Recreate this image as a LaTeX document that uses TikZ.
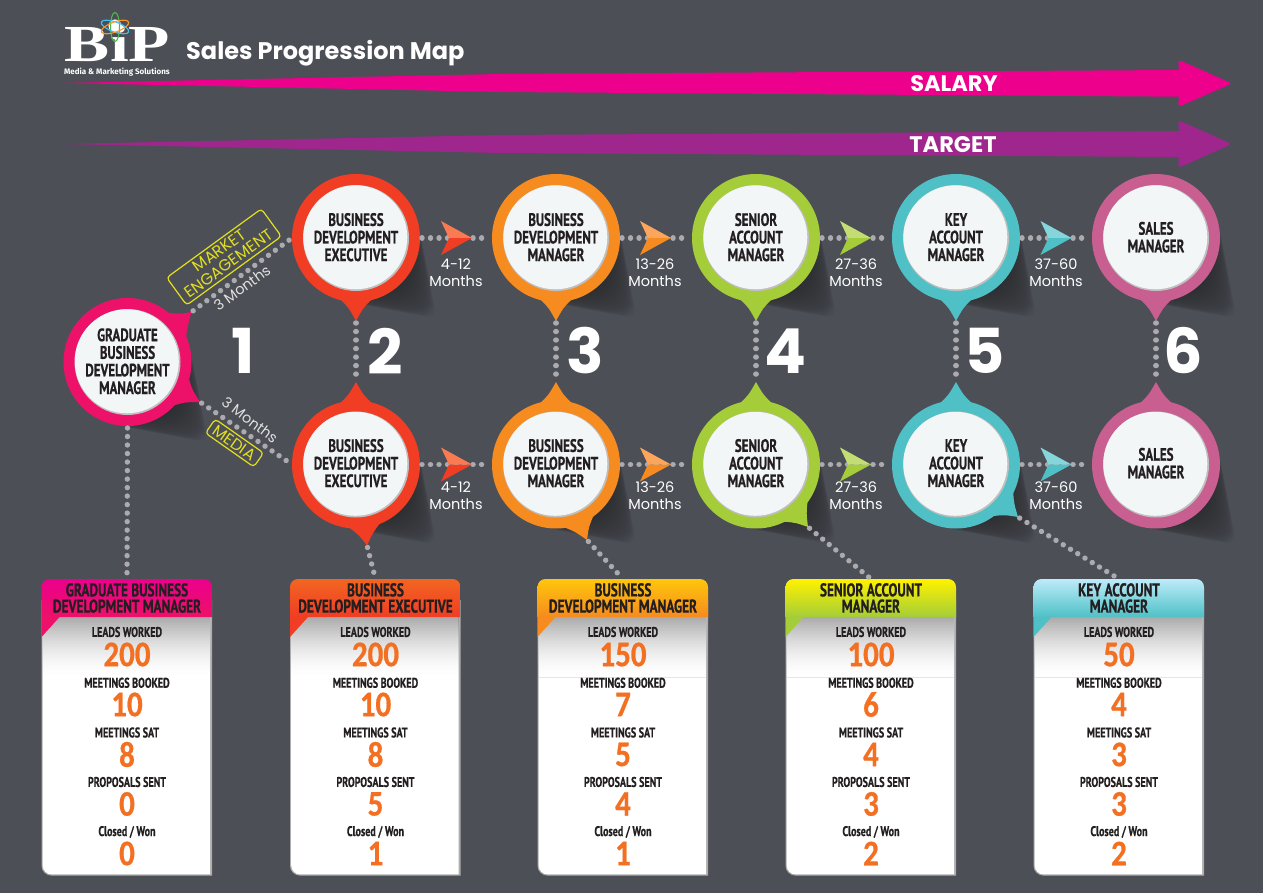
\documentclass[tikz,border=0pt]{standalone}
\usepackage{fontspec}
\usetikzlibrary{calc,shapes.geometric}
\setmainfont{Poppins}
\newfontfamily\cardfont[FakeStretch=0.72,FakeBold=0.6]{PT Sans}
\newfontfamily\numfont[FakeStretch=0.86,FakeBold=0.6]{Carlito}
\newfontfamily\logofont[FakeStretch=1.3]{Liberation Serif}
\newfontfamily\tinyfont{Fira Sans}
\definecolor{bg}{HTML}{4D4F57}
\definecolor{ink}{HTML}{231F20}
\definecolor{dotgrey}{HTML}{ABABAF}
\definecolor{discwhite}{HTML}{F3F6F7}
\definecolor{cPink}{HTML}{ED1169}
\definecolor{cRed}{HTML}{F03D24}
\definecolor{cOrange}{HTML}{F68B1F}
\definecolor{cGreen}{HTML}{A4CD39}
\definecolor{cTeal}{HTML}{4FC1C6}
\definecolor{cMauve}{HTML}{C95E91}
\definecolor{lRed}{HTML}{FA7B52}
\definecolor{lOrange}{HTML}{FBA65C}
\definecolor{lGreen}{HTML}{C3DC74}
\definecolor{lTeal}{HTML}{86D5DA}
\definecolor{numorange}{HTML}{F36F21}
\definecolor{tagyellow}{HTML}{E2DF1E}
\definecolor{salary}{HTML}{EC008C}
\definecolor{target}{HTML}{9E268C}
\tikzset{
  x=1pt,y=-1pt,
  ring/.style={circle,fill=#1,minimum size=128pt,inner sep=0pt,outer sep=0pt},
  pintext/.style={align=center,text=ink,inner sep=0pt,font=\cardfont\bfseries\fontsize{18}{17.6}\selectfont},
  dots/.style={draw=dotgrey,line width=5.4pt,line cap=round,dash pattern=on 0.01pt off 8.5pt,shorten <=2pt,shorten >=2pt},
  months/.style={align=center,text=white,inner sep=0pt,font=\fontsize{14.5}{17}\selectfont},
  bignum/.style={text=white,inner sep=0pt,font=\bfseries\fontsize{62}{62}\selectfont},
  arrowlabel/.style={text=white,inner sep=0pt,font=\bfseries\fontsize{22.5}{22.5}\selectfont},
  cardbox/.style={minimum width=171pt,minimum height=296pt,inner sep=0pt,outer sep=0pt},
  cardhead/.style={align=center,text=ink,inner sep=0pt,font=\cardfont\bfseries\fontsize{18.5}{16.2}\selectfont},
  cardlabel/.style={text=ink,inner sep=0pt,font=\cardfont\bfseries\fontsize{14}{14}\selectfont},
  cardnum/.style={text=numorange,inner sep=0pt,font=\numfont\bfseries\fontsize{36}{36}\selectfont},
  tagbox/.style={draw=tagyellow,line width=1.2pt,rounded corners=3.5pt,align=center,text=tagyellow,inner sep=0pt,font=\fontsize{16}{16}\selectfont},
  rotlabel/.style={text=white!88!black,inner sep=0pt,font=\fontsize{14.5}{15}\selectfont},
}
% soft long shadow, lower right of a circle
\newcommand{\softshadow}[2]{%
  \foreach \i in {1,...,30}{\fill[black,opacity=0.016] (#1+2.4*\i,#2+2.4*\i) circle[radius=64-1.9*\i];}}
\newcommand{\pointer}[4]{% centre node, colour, angle, tip
  \fill[#2] ($(#1)+(#3-15:63)$) .. controls ($(#1)+(#3-6:70)$) .. (#4) .. controls ($(#1)+(#3+6:70)$) .. ($(#1)+(#3+15:63)$) -- cycle;
}
% pin: ring node, pointer, disc
\newcommand{\pin}[7]{% name,x,y,colour,angle,tipx,tipy
  \node[ring=#4] (#1) at (#2,#3) {};
  \coordinate (#1-tip) at (#6,#7);
  \pointer{#1}{#4}{#5}{#1-tip}
  \fill[black!25] (#2,#3) circle[radius=53];
  \fill[discwhite] (#2-0.7,#3-0.7) circle[radius=52];
}
\newcommand{\chev}[4]{% tipx,y,light,dark
  \fill[#4] (#1,#2) -- (#1-31,#2+17) -- (#1-23,#2) -- cycle;
  \fill[#3] (#1,#2) -- (#1-31,#2-17) -- (#1-23,#2) -- cycle;
}
\newcommand{\card}[9]{% name,cx,topcolour,botcolour,head,leads,booked,sat,sent ; won via \wonval, faint rule via \ruleop
  \node[cardbox] (#1) at (#2,727) {};
  \fill[black!32,rounded corners=10pt] (#2-85.5,600) -- (#2-85.5,875.6) [sharp corners] -- (#2+85,875.6) -- (#2+85,600) -- cycle;
  \fill[white,rounded corners=9pt] (#2-84.3,600) -- (#2-84.3,874.4) [sharp corners] -- (#2+83,874.4) -- (#2+83,600) -- cycle;
  \foreach \k in {0,...,29}{\pgfmathsetmacro{\op}{0.33*(1-\k/30)^1.7}\fill[black,opacity=\op] (#2-84.3,617+2*\k) rectangle (#2+83,619+2*\k);}
  \draw[black,opacity=\ruleop,line width=0.6pt] (#2-84,677.7) -- (#2+83,677.7);
  \shade[top color=#3,middle color=#4!75!#3,bottom color=#4] (#2-85.5,617) [rounded corners=8pt] -- (#2-85.5,579) -- (#2+85,579) [sharp corners] -- (#2+85,617) -- cycle;
  \fill[#4] (#2-85.5,616.5) -- (#2-67,616.5) -- (#2-85.5,637) -- cycle;
  \node[cardhead] (#1-head) at (#2,598) {#5};
  \node[cardlabel] (#1-l1) at (#2,632) {LEADS WORKED};
  \node[cardnum] (#1-n1) at (#2,654.5) {#6};
  \node[cardlabel] (#1-l2) at (#2,682.8) {MEETINGS BOOKED};
  \node[cardnum] (#1-n2) at (#2,704.5) {#7};
  \node[cardlabel] (#1-l3) at (#2,732.5) {MEETINGS SAT};
  \node[cardnum] (#1-n3) at (#2,754.5) {#8};
  \node[cardlabel] (#1-l4) at (#2,782) {PROPOSALS SENT};
  \node[cardnum] (#1-n4) at (#2,804) {#9};
  \node[cardlabel] (#1-l5) at (#2,832) {Closed / Won};
  \node[cardnum] (#1-n5) at (#2,853.5) {\wonval};
}
\begin{document}
\begin{tikzpicture}
\useasboundingbox (0,0) rectangle (1263,893);
\fill[bg] (0,0) rectangle (1263,893);

% logo
\node[text=white,inner sep=0pt,anchor=base,font=\logofont\bfseries\fontsize{52}{52}\selectfont] (logo) at (117.5,62) {BiP};
\node[text=white,inner sep=0pt,font=\tinyfont\bfseries\fontsize{8}{8}\selectfont] (logosub) at (117,72) {Media \& Marketing Solutions};
\fill[white] (115,26) circle[radius=6.5];
\draw[green!60!black!70!white,line width=1.1pt] (115,27) ellipse[x radius=4.5,y radius=14.5];
\draw[cyan!75!white,line width=1.1pt,rotate around={-20:(115,27)}] (115,27) ellipse[x radius=14.5,y radius=5];
\draw[orange!85!white,line width=1.1pt,rotate around={20:(115,27)}] (115,27) ellipse[x radius=14.5,y radius=5];
\node[text=white,inner sep=0pt,font=\bfseries\fontsize{24}{24}\selectfont,anchor=base west] (title) at (186,60) {Sales Progression Map};

% long arrows
\fill[salary,rounded corners=3.5pt] (63,83) [sharp corners] -- (500,74) -- (1179,70) [rounded corners=3.5pt] -- (1178,59.5) -- (1232,83.5) -- (1178,107) [sharp corners] -- (1179,96.7) -- (500,92) -- cycle;
\fill[target,rounded corners=3.5pt] (63,144) [sharp corners] -- (500,135) -- (1179,131) [rounded corners=3.5pt] -- (1178,120) -- (1232,144) -- (1178,168) [sharp corners] -- (1179,157) -- (500,153) -- cycle;
\node[arrowlabel] (salarylabel) at (954,84) {SALARY};
\node[arrowlabel] (targetlabel) at (953,145) {TARGET};

% shadows
\softshadow{127.5}{362}
\foreach \cx in {356,556,756,956,1156}{\softshadow{\cx}{238}\softshadow{\cx}{464.5}}

% pins
\pin{grad}{127.5}{362}{cPink}{-37}{191.5}{312}
\coordinate (grad-tipb) at (200,402);
\pointer{grad}{cPink}{29}{grad-tipb}
\node[pintext] (gradt) at (127.5,361.3) {GRADUATE\\BUSINESS\\DEVELOPMENT\\MANAGER};

\pin{ta}{356}{238}{cRed}{90}{356}{321}
\node[pintext] (tat) at (356,237.2) {BUSINESS\\DEVELOPMENT\\EXECUTIVE};
\pin{tb}{556}{238}{cOrange}{90}{556}{321}
\node[pintext] (tbt) at (556,237.2) {BUSINESS\\DEVELOPMENT\\MANAGER};
\pin{tc}{756}{238}{cGreen}{90}{756}{321}
\node[pintext] (tct) at (756,237.2) {SENIOR\\ACCOUNT\\MANAGER};
\pin{td}{956}{238}{cTeal}{90}{956}{321}
\node[pintext] (tdt) at (956,237.2) {KEY\\ACCOUNT\\MANAGER};
\pin{te}{1156}{238}{cMauve}{90}{1156}{321}
\node[pintext] (tet) at (1156,237.2) {SALES\\MANAGER};

\pin{ba}{356}{464.5}{cRed}{-90}{356}{382}
\coordinate (ba-low) at (367,545.5);
\pointer{ba}{cRed}{82}{ba-low}
\node[pintext] (bat) at (356,463.2) {BUSINESS\\DEVELOPMENT\\EXECUTIVE};
\pin{bb}{556}{464.5}{cOrange}{-90}{556}{382}
\coordinate (bb-low) at (587,540);
\pointer{bb}{cOrange}{68}{bb-low}
\node[pintext] (bbt) at (556,463.2) {BUSINESS\\DEVELOPMENT\\MANAGER};
\pin{bc}{756}{464.5}{cGreen}{-90}{756}{382}
\coordinate (bc-low) at (808,527);
\pointer{bc}{cGreen}{50}{bc-low}
\node[pintext] (bct) at (756,463.2) {SENIOR\\ACCOUNT\\MANAGER};
\pin{bd}{956}{464.5}{cTeal}{-90}{956}{382}
\coordinate (bd-low) at (1018,517);
\pointer{bd}{cTeal}{40}{bd-low}
\node[pintext] (bdt) at (956,463.2) {KEY\\ACCOUNT\\MANAGER};
\pin{be}{1156}{464.5}{cMauve}{-90}{1156}{382}
\node[pintext] (bet) at (1156,463.2) {SALES\\MANAGER};

% cards
\def\ruleop{0}
\def\wonval{0}
\card{c1}{127}{salary}{cPink}{GRADUATE BUSINESS\\DEVELOPMENT MANAGER}{200}{10}{8}{0}
\def\wonval{1}
\definecolor{h2}{HTML}{F26522}
\card{c2}{375.5}{h2}{cRed}{BUSINESS\\DEVELOPMENT EXECUTIVE}{200}{10}{8}{5}
\def\ruleop{0.1}
\def\wonval{1}
\definecolor{h3}{HTML}{FFC60B}
\card{c3}{623}{h3}{cOrange}{BUSINESS\\DEVELOPMENT MANAGER}{150}{7}{5}{4}
\def\wonval{2}
\definecolor{h4}{HTML}{FFF200}
\card{c4}{871}{h4}{cGreen}{SENIOR ACCOUNT\\MANAGER}{100}{6}{4}{3}
\def\wonval{2}
\definecolor{h5}{HTML}{BDEBFA}
\card{c5}{1119}{h5}{cTeal}{KEY ACCOUNT\\MANAGER}{50}{4}{3}{3}

% connectors
\draw[dots] (grad-tip) -- (ta.west);
\draw[dots] (grad-tipb) -- (ba.west);
\draw[dots] (grad.south) -- (c1.north);
\foreach \a/\b in {ta/tb,tb/tc,tc/td,td/te,ba/bb,bb/bc,bc/bd,bd/be}{\draw[dots] (\a.east) -- (\b.west);}
\foreach \a/\b in {ta/ba,tb/bb,tc/bc,td/bd,te/be}{\draw[dots] (\a-tip) -- (\b-tip);}
\draw[dots] (ba-low) -- (c2.north);
\draw[dots] (bb-low) -- (c3.north);
\draw[dots] (bc-low) -- (c4.north);
\draw[dots] (bd-low) -- (c5.north);

% chevrons and their labels
\foreach \y in {238,464.5}{
  \chev{472}{\y}{lRed}{cRed}
  \chev{671}{\y}{lOrange}{cOrange}
  \chev{871}{\y}{lGreen}{cGreen}
  \chev{1071.5}{\y}{lTeal}{cTeal}
}
\node[months] (m1) at (456,272.5) {4-12\\Months};
\node[months] (m2) at (655,272.5) {13-26\\Months};
\node[months] (m3) at (856,272.5) {27-36\\Months};
\node[months] (m4) at (1056,272.5) {37-60\\Months};
\node[months] (m5) at (456,495.5) {4-12\\Months};
\node[months] (m6) at (655,495.5) {13-26\\Months};
\node[months] (m7) at (856,495.5) {27-36\\Months};
\node[months] (m8) at (1056,495.5) {37-60\\Months};

% big numbers
\node[bignum] (n1) at (243,351) {1};
\node[bignum] (n2) at (385,351) {2};
\node[bignum] (n3) at (585,351) {3};
\node[bignum] (n4) at (785,351) {4};
\node[bignum] (n5) at (985,351) {5};
\node[bignum] (n6) at (1183,351) {6};

% tags
\node[tagbox,rotate=36,minimum width=117pt,minimum height=34pt] (market) at (224,257) {MARKET\\ENGAGEMENT};
\node[tagbox,rotate=-35,minimum width=59pt,minimum height=17pt] (media) at (234.5,443) {MEDIA};
\node[rotlabel,rotate=36] (mo1) at (242,288) {3 Months};
\node[rotlabel,rotate=-37] (mo2) at (250,420) {3 Months};
\end{tikzpicture}
\end{document}
